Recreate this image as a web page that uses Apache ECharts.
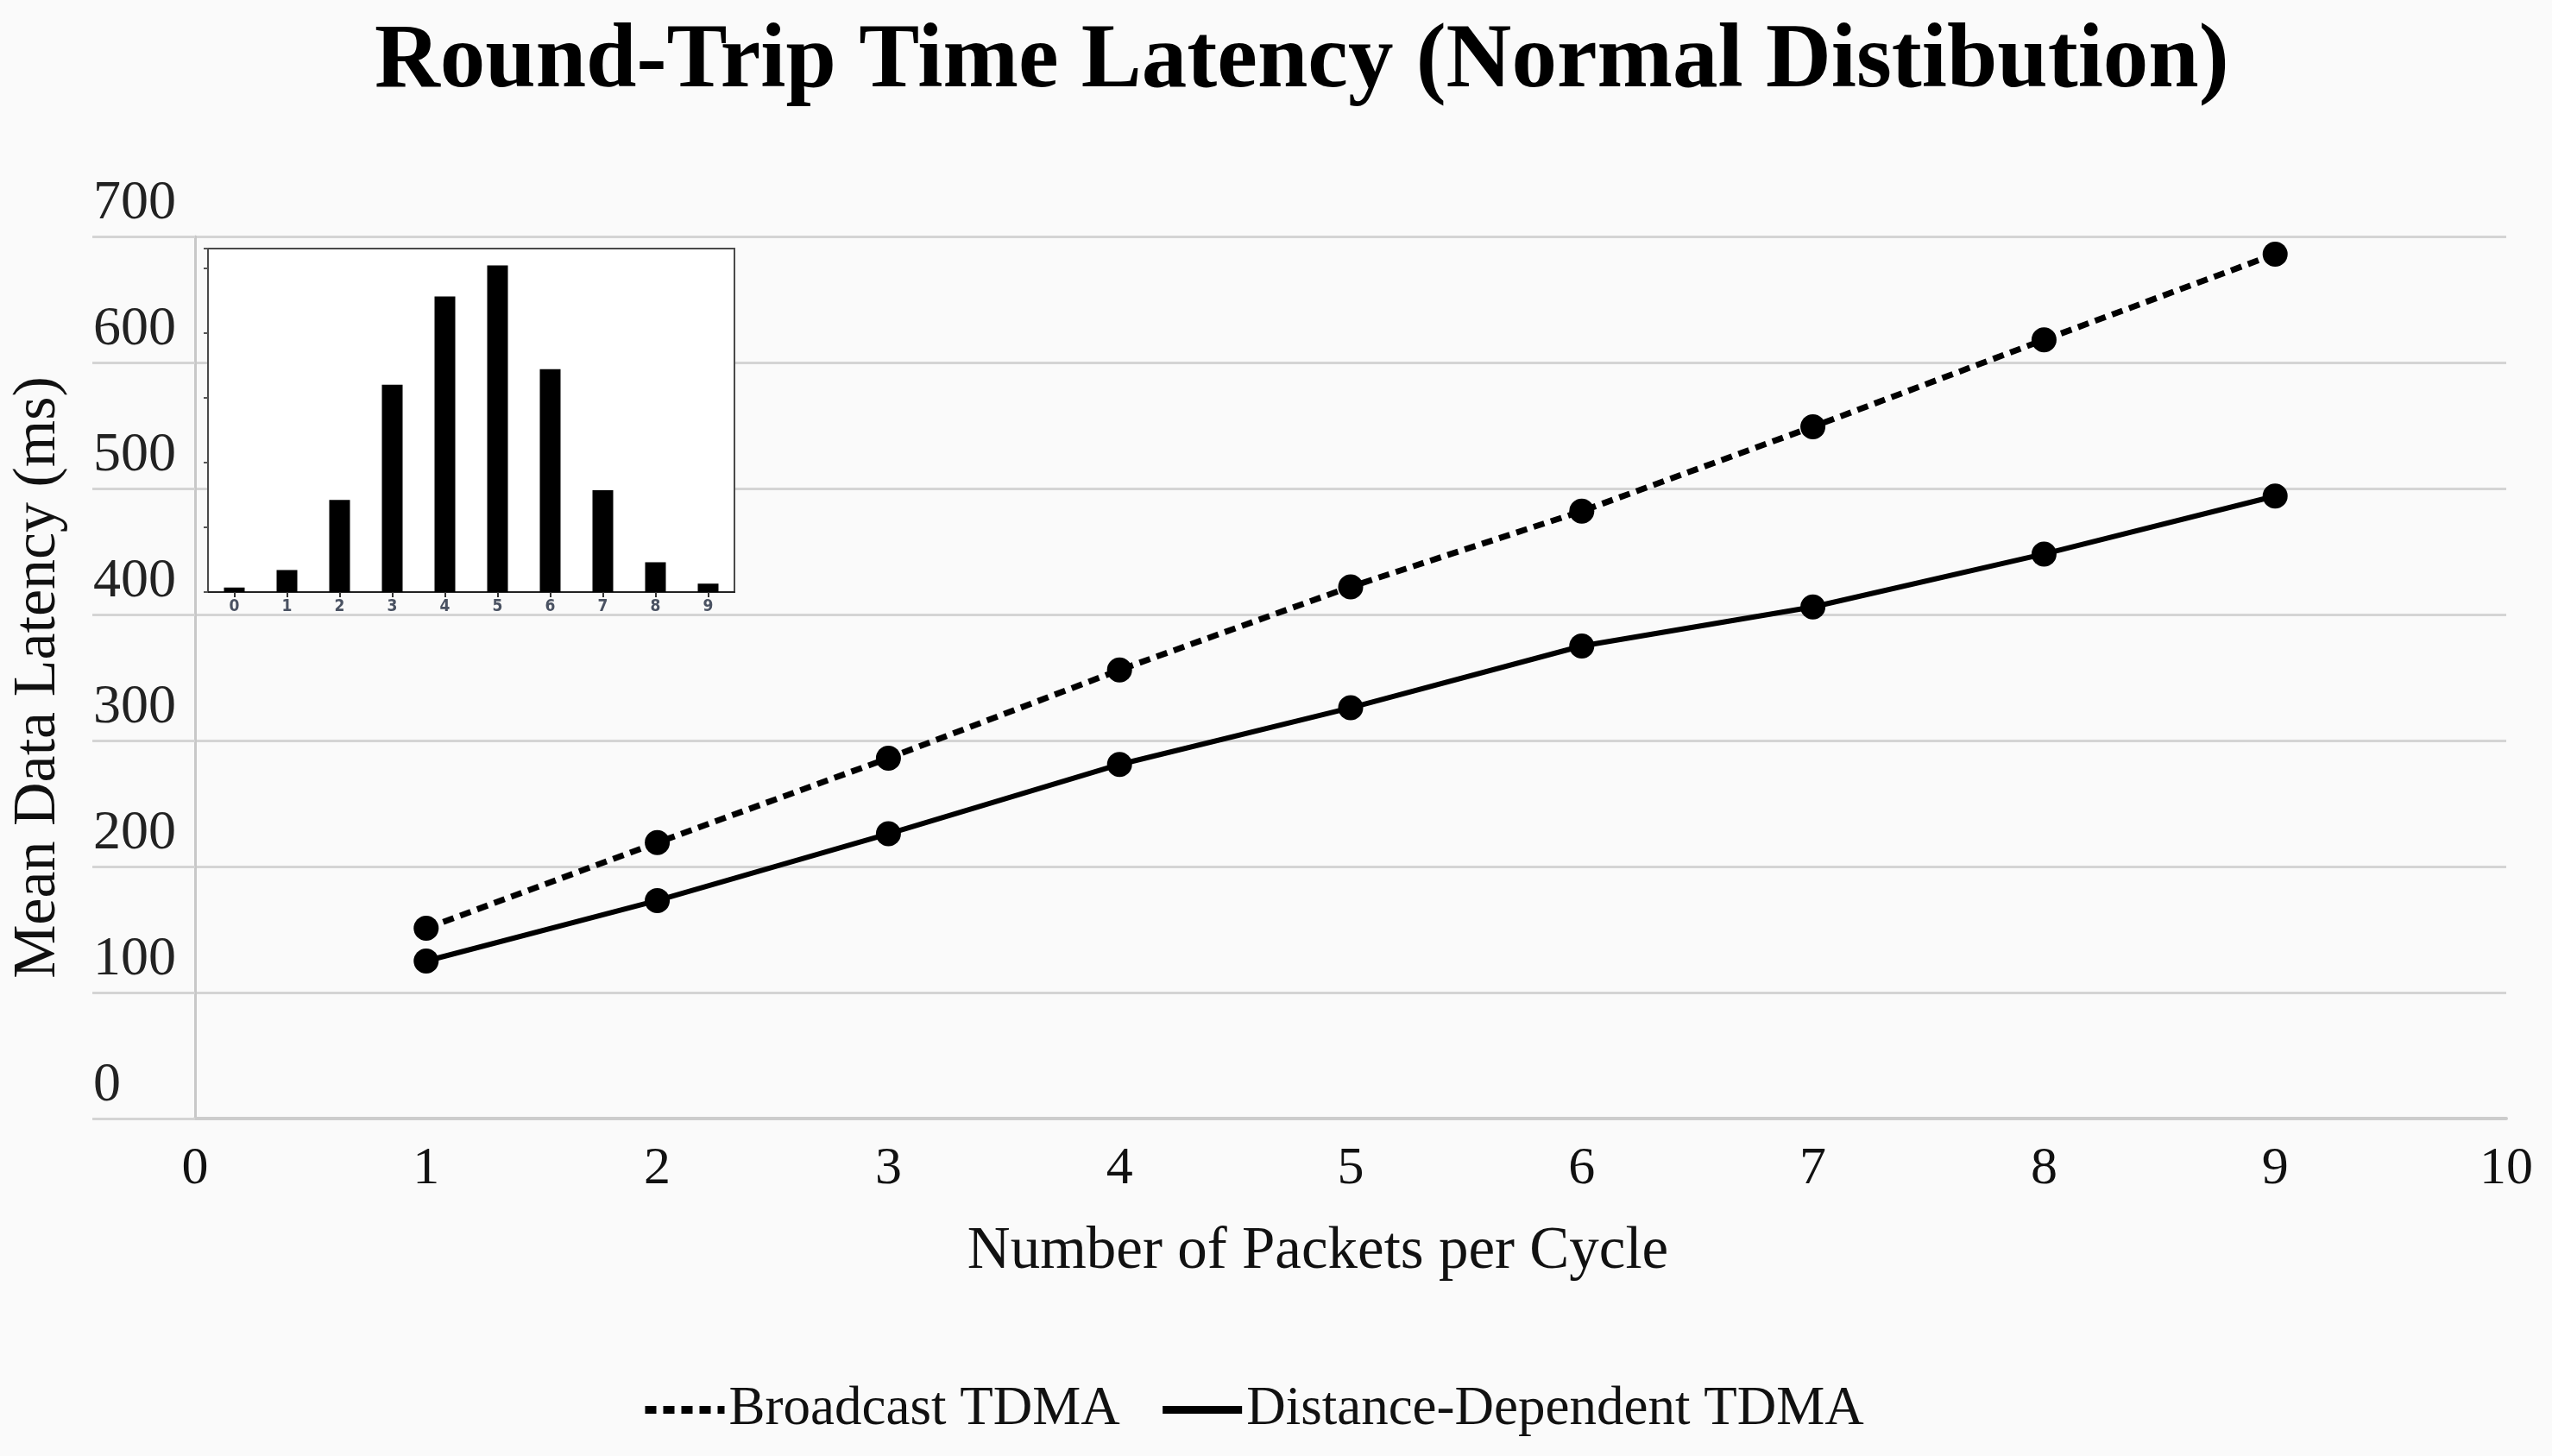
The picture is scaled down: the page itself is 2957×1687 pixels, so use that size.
<!DOCTYPE html>
<html>
<head>
<meta charset="utf-8">
<script src="https://cdn.jsdelivr.net/npm/echarts@6/dist/echarts.min.js"></script>
<style>
html,body{margin:0;padding:0;background:#fafafa;}
#chart{width:2957px;height:1687px;}
</style>
</head>
<body>
<div id="chart"></div>
<script>
const titleText = 'Round-Trip Time Latency (Normal Distibution)';
const xName = 'Number of Packets per Cycle';
const yName = 'Mean Data Latency (ms)';
const seriesNames = ['Broadcast TDMA', 'Distance-Dependent TDMA'];
const packets = [1, 2, 3, 4, 5, 6, 7, 8, 9];
const broadcastLatency = [151, 219, 286, 356, 422, 482, 549, 618, 686];
const distanceLatency = [125, 173, 226, 281, 326, 375, 406, 448, 494];
const histCategories = ['0', '1', '2', '3', '4', '5', '6', '7', '8', '9'];
const histValues = [0.35, 1.7, 7.1, 16, 22.8, 25.2, 17.2, 7.85, 2.3, 0.65];

const FONT = '"Liberation Serif", "Times New Roman", serif';
const GRID_COLOR = '#d4d4d4';

const chart = echarts.init(document.getElementById('chart'));
chart.setOption({
  backgroundColor: '#fafafa',
  animation: false,
  title: {
    text: titleText,
    left: 434,
    top: 20,
    padding: 0,
    textStyle: { fontFamily: FONT, fontWeight: 'bold', fontSize: 105, color: '#000' }
  },
  legend: {
    top: 1597,
    left: 738,
    itemWidth: 92,
    itemHeight: 12,
    itemGap: 45,
    itemStyle: { opacity: 0 },
    lineStyle: { width: 9 },
    textStyle: { fontFamily: FONT, fontSize: 63, color: '#111' },
    data: seriesNames
  },
  grid: [
    { left: 226, right: 53, top: 274, bottom: 391 },
    { left: 241, top: 288, width: 610, height: 398, show: true, backgroundColor: '#ffffff',
      borderColor: '#4a4a4a', borderWidth: 2, z: 3 }
  ],
  xAxis: [
    {
      type: 'value', gridIndex: 0, min: 0, max: 10, interval: 1,
      name: xName, nameLocation: 'middle', nameGap: 120,
      nameTextStyle: { fontFamily: FONT, fontSize: 69, color: '#111', padding: [0, 76, 0, 0] },
      axisLine: { show: true, lineStyle: { color: '#cccccc', width: 4 } },
      axisTick: { show: false },
      axisLabel: { fontFamily: FONT, fontSize: 62, color: '#111', margin: 28 },
      splitLine: { show: false }
    },
    {
      type: 'category', gridIndex: 1, data: histCategories, boundaryGap: true, z: 4,
      axisLine: { show: true, lineStyle: { color: '#222', width: 2 } },
      axisTick: { show: true, alignWithLabel: true, length: 6, lineStyle: { color: '#333', width: 2 } },
      axisLabel: { fontFamily: '"DejaVu Sans Condensed", "DejaVu Sans", sans-serif', fontWeight: 'bold', fontSize: 19, color: '#4a5262', margin: 8 },
      splitLine: { show: false }
    }
  ],
  yAxis: [
    {
      type: 'value', gridIndex: 0, min: 0, max: 700, interval: 100,
      name: yName, nameLocation: 'middle', nameGap: 146, nameRotate: 90,
      nameTextStyle: { fontFamily: FONT, fontSize: 70, color: '#111' },
      axisLine: { show: true, lineStyle: { color: '#c8c8c8', width: 3 } },
      axisTick: { show: true, length: 119, lineStyle: { color: GRID_COLOR, width: 3 } },
      axisLabel: { fontFamily: FONT, fontSize: 64, color: '#222', margin: 118, align: 'left',
                   verticalAlign: 'bottom', lineHeight: 64, padding: [0, 0, 6, 0] },
      splitLine: { show: true, lineStyle: { color: GRID_COLOR, width: 3 } }
    },
    {
      type: 'value', gridIndex: 1, min: 0, max: 26.5, interval: 5, z: 4,
      axisLine: { show: true, lineStyle: { color: '#4a4a4a', width: 2 } },
      axisTick: { show: true, length: 5, lineStyle: { color: '#555', width: 2 } },
      axisLabel: { show: false },
      splitLine: { show: false }
    }
  ],
  series: [
    {
      name: seriesNames[0], type: 'line', xAxisIndex: 0, yAxisIndex: 0, z: 2,
      data: packets.map((p, i) => [p, broadcastLatency[i]]),
      symbol: 'circle', symbolSize: 29,
      lineStyle: { color: '#000', width: 7, type: [13, 8] },
      itemStyle: { color: '#000' }
    },
    {
      name: seriesNames[1], type: 'line', xAxisIndex: 0, yAxisIndex: 0, z: 2,
      data: packets.map((p, i) => [p, distanceLatency[i]]),
      symbol: 'circle', symbolSize: 29,
      lineStyle: { color: '#000', width: 6, type: 'solid' },
      itemStyle: { color: '#000' }
    },
    {
      name: 'Distribution', type: 'bar', xAxisIndex: 1, yAxisIndex: 1, z: 6,
      data: histValues, barWidth: 24,
      itemStyle: { color: '#000' }
    }
  ]
});
</script>
</body>
</html>
